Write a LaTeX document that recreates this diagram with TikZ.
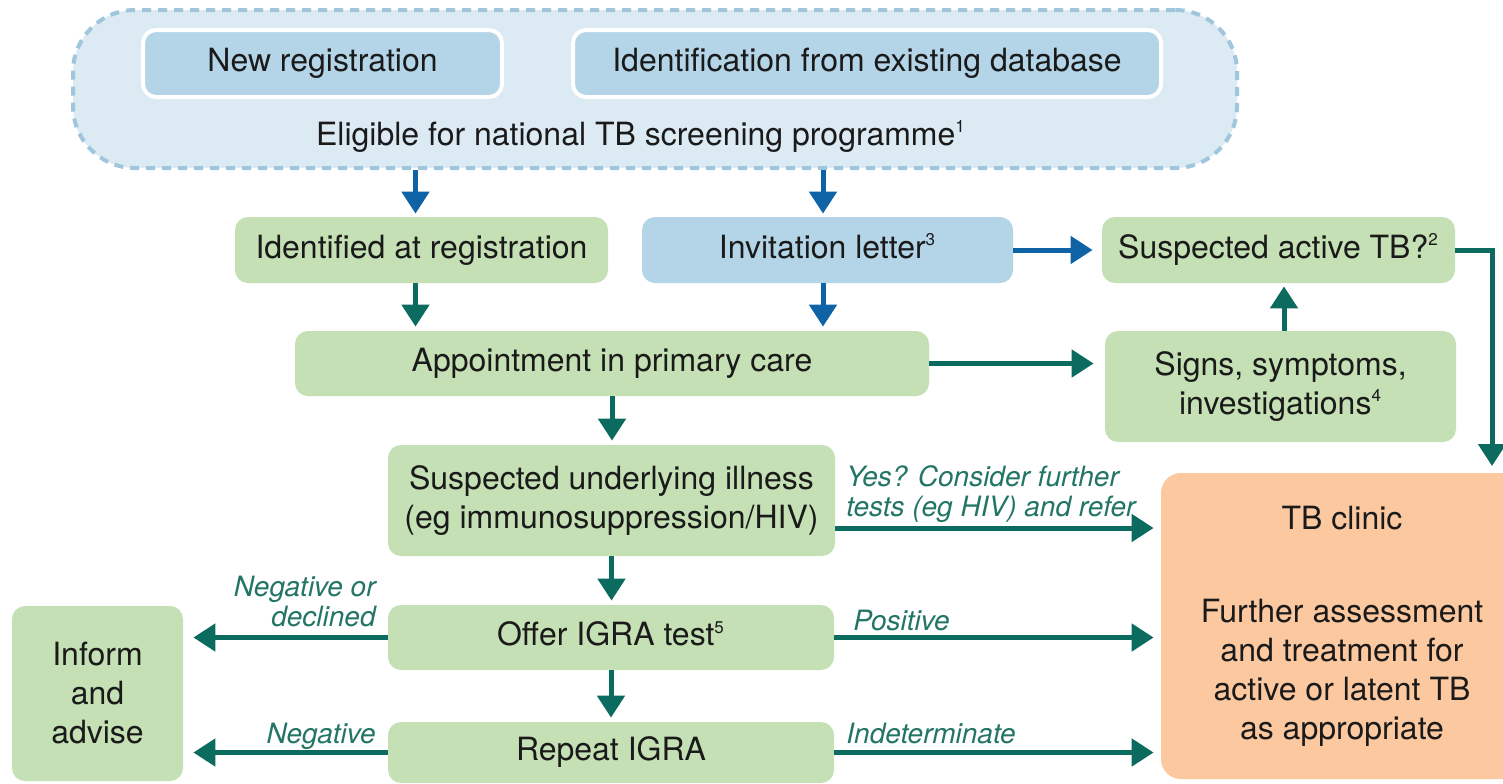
\documentclass[tikz,border=0pt]{standalone}
\usepackage{fontspec}
\setmainfont{TeX Gyre Heros}
\usetikzlibrary{arrows.meta}
\definecolor{outerfill}{HTML}{DBEAF3}
\definecolor{outerdash}{HTML}{9FC6DC}
\definecolor{bluebox}{HTML}{B4D5E8}
\definecolor{greenbox}{HTML}{C4E0B4}
\definecolor{orangebox}{HTML}{FBC8A0}
\definecolor{bluearrow}{HTML}{0E63A6}
\definecolor{tealarrow}{HTML}{0B6B5E}
\definecolor{labelteal}{HTML}{237566}
\definecolor{txt}{HTML}{1A1A1A}
\newcommand{\supnum}[1]{\smash{\textsuperscript{\fontsize{8.5pt}{8.5pt}\selectfont #1}}}
\tikzset{
  mainfont/.style={font=\fontsize{16pt}{19.5pt}\selectfont, text=txt},
  oneline/.style={text height=11.5pt, text depth=3.4pt},
  gbox/.style={mainfont, fill=greenbox, rounded corners=6.5pt, inner sep=0pt, align=center},
  bbox/.style={mainfont, fill=bluebox, rounded corners=6.5pt, inner sep=0pt, align=center},
  wbox/.style={bbox, draw=white, line width=2pt},
  lbl/.style={font=\fontsize{14pt}{15pt}\selectfont\itshape, text=labelteal, inner sep=0pt},
  tarrow/.style={draw=tealarrow, line width=2.5pt, -{Triangle[length=11pt,width=13.5pt]}},
  barrow/.style={draw=bluearrow, line width=2.5pt, -{Triangle[length=11pt,width=13.5pt]}},
}
\begin{document}
\begin{tikzpicture}[x=0.5pt,y=-0.5pt]
\useasboundingbox (0,0) rectangle (1503,783);
\fill[white] (0,0) rectangle (1503,783);
\begin{scope}
\clip (0,0) rectangle (1503,783);
% top group
\node[draw=outerdash, fill=outerfill, line width=2pt, dash pattern=on 4.5pt off 3.5pt,
      rounded corners=31pt, minimum width=582pt, minimum height=79pt, inner sep=0pt] (outer) at (655,89) {};
\node[wbox, oneline, minimum width=179.5pt, minimum height=33.5pt] (newreg) at (322.5,63.5) {New registration};
\node[wbox, oneline, minimum width=294pt, minimum height=33.5pt] (ident) at (867,63.5) {Identification from existing database};
\node[mainfont, anchor=base, inner sep=0pt] (elig) at (641,145) {Eligible for national TB screening programme\supnum{1}};
% second row
\node[gbox, oneline, minimum width=186.5pt, minimum height=33pt] (idreg) at (421.5,250) {Identified at registration};
\node[bbox, oneline, minimum width=185.5pt, minimum height=33pt] (invite) at (827.5,250) {Invitation letter\supnum{3}};
\node[gbox, oneline, minimum width=176.5pt, minimum height=33pt] (susTB) at (1278.5,250) {Suspected active TB?\supnum{2}};
% third row
\node[gbox, oneline, minimum width=317pt, minimum height=32.5pt] (appt) at (612,363.5) {Appointment in primary care};
\node[gbox, minimum width=175.5pt, minimum height=55.5pt] (signs) at (1280.5,386.5) {Signs, symptoms,\\investigations\supnum{4}};
% lower column
\node[gbox, minimum width=223.5pt, minimum height=55.5pt] (under) at (611.5,500.5) {Suspected underlying illness\\(eg immunosuppression/HIV)};
\node[gbox, oneline, minimum width=223pt, minimum height=32.5pt] (offer) at (611,637.5) {Offer IGRA test\supnum{5}};
\node[gbox, oneline, minimum width=223pt, minimum height=30.5pt] (repeat) at (611,752.5) {Repeat IGRA};
\node[gbox, minimum width=85.5pt, minimum height=87.5pt] (inform) at (97.5,693.5) {Inform\\and\\advise};
\node[mainfont, fill=orangebox, rounded corners=10pt, inner sep=0pt, align=center,
      minimum width=181pt, minimum height=153pt] (clinic) at (1342,626)
      {TB clinic\\[27pt]Further assessment\\and treatment for\\active or latent TB\\as appropriate};
% connectors
\draw[barrow, shorten >=1.5pt] ([xshift=-3pt]idreg.north |- outer.south) -- ([xshift=-3pt]idreg.north);
\draw[barrow, shorten >=1.5pt] ([xshift=-2.25pt]invite.north |- outer.south) -- ([xshift=-2.25pt]invite.north);
\draw[tarrow, shorten >=2pt] ([xshift=-3pt]idreg.south) -- ([xshift=-3pt]idreg.south |- appt.north);
\draw[barrow, shorten >=2pt] ([xshift=-2.25pt]invite.south) -- ([xshift=-2.25pt]invite.south |- appt.north);
\draw[barrow, shorten >=4.5pt] (invite.east) -- (susTB.west);
\draw[tarrow, shorten >=5.5pt] (appt.east) -- (signs.west |- appt.east);
\draw[tarrow, shorten >=1.5pt] ([xshift=1.75pt]signs.north) -- ([xshift=1.75pt]signs.north |- susTB.south);
\coordinate (cliniccorner) at (1492,466);
\draw[tarrow] (susTB.east) -| (cliniccorner);
\draw[tarrow, shorten >=2pt] (appt.south) -- (appt.south |- under.north);
\coordinate (yesrow) at (0,528);
\draw[tarrow, shorten >=3.5pt] (under.east |- yesrow) -- (clinic.west |- yesrow);
\draw[tarrow, shorten >=2pt] (under.south) -- (under.south |- offer.north);
\draw[tarrow, shorten >=5pt] (offer.west) -- (inform.east |- offer.west);
\draw[tarrow, shorten >=3.5pt] (offer.east) -- (clinic.west |- offer.east);
\draw[tarrow, shorten >=2pt] (offer.south) -- (offer.south |- repeat.north);
\draw[tarrow, shorten >=5pt] (repeat.west) -- (inform.east |- repeat.west);
\draw[tarrow, shorten >=3.5pt] (repeat.east) -- (clinic.west |- repeat.east);
% labels
\node[lbl, anchor=south west, align=left] (yeslbl) at (846,523) {Yes? Consider further\\tests (eg HIV) and refer};
\node[lbl, anchor=south east, align=right] (neglbl) at (376,627) {Negative or\\declined};
\node[lbl, anchor=base east] (neg2lbl) at (376,743) {Negative};
\node[lbl, anchor=base west] (poslbl) at (853,630) {Positive};
\node[lbl, anchor=base west] (indlbl) at (846,743) {Indeterminate};
\end{scope}
\end{tikzpicture}
\end{document}
